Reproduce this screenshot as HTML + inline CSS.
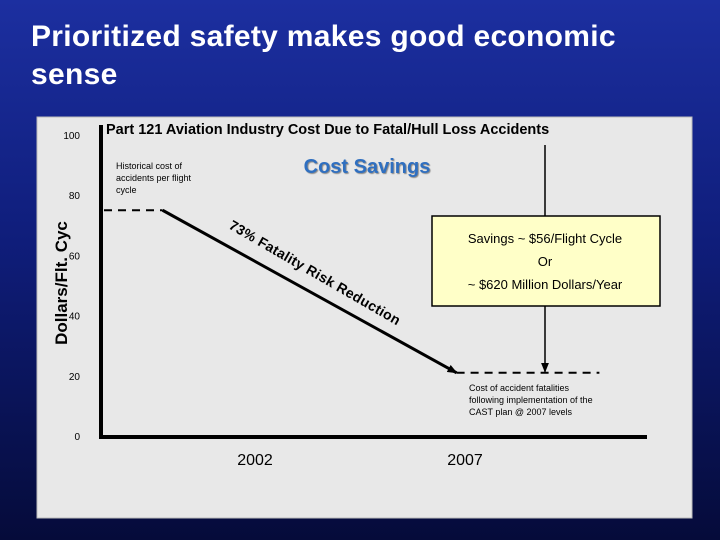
<!DOCTYPE html>
<html><head><meta charset="utf-8"><style>
html,body{margin:0;padding:0}
body{width:720px;height:540px;overflow:hidden;background:linear-gradient(#1c2fa0 0%,#0f1d7a 45%,#050b3a 100%);font-family:"Liberation Sans",sans-serif;position:relative}
#title{position:absolute;left:31px;top:18px;color:#fff;font-weight:bold;font-size:30px;line-height:38px;letter-spacing:0.3px}
</style></head><body>
<div id="title">Prioritized safety makes good economic<br>sense</div>
<svg id="chart" width="720" height="540" style="position:absolute;left:0;top:0">
<defs><marker id="ah" markerUnits="userSpaceOnUse" markerWidth="10" markerHeight="8" refX="9" refY="4" orient="auto"><path d="M0,0L10,4L0,8z" fill="#000"/></marker></defs>
<rect x="37" y="117" width="655" height="401" fill="#e8e8e8" stroke="#bbb"/>
</svg>
<script>
const years=[2002,2007];
const yTicks=[100,80,60,40,20,0];
const historical=[[1999.8,75]];
const trend=[[1999.8,75],[2006.8,21]];
const future=[[2006.8,21],[2010.2,21]];
const svg=document.getElementById('chart');const NS='http://www.w3.org/2000/svg';
const xs=v=>255+(v-2002)*42, ys=v=>436-v*3.01;
function mk(t,a,p){const e=document.createElementNS(NS,t);for(const k in a)e.setAttribute(k,a[k]);(p||svg).appendChild(e);return e;}
let e;
e=mk('line',{x1:101,y1:125,x2:101,y2:438,stroke:'#000','stroke-width':4});


e=mk('line',{x1:99,y1:437,x2:647,y2:437,stroke:'#000','stroke-width':4});


yTicks.forEach(v=>{e=mk('text',{x:80,y:ys(v)+4,'font-size':10,'text-anchor':'end'});e.textContent=v;

});
years.forEach(v=>{e=mk('text',{x:xs(v),y:465,'font-size':16,'text-anchor':'middle'});e.textContent=v;

});
e=mk('line',{x1:104,y1:ys(historical[0][1]),x2:xs(historical[0][0]),y2:ys(historical[0][1]),stroke:'#000','stroke-width':2,'stroke-dasharray':'8,6'});


e=mk('line',{x1:xs(trend[0][0]),y1:ys(trend[0][1]),x2:xs(trend[1][0]),y2:ys(trend[1][1]),stroke:'#000','stroke-width':3,'marker-end':'url(#ah)'});


e=mk('line',{x1:xs(future[0][0]),y1:ys(future[0][1]),x2:xs(future[1][0]),y2:ys(future[1][1]),stroke:'#000','stroke-width':2,'stroke-dasharray':'8,6'});


e=mk('line',{x1:545,y1:145,x2:545,y2:216,stroke:'#000','stroke-width':1.5});


e=mk('line',{x1:545,y1:305,x2:545,y2:ys(future[0][1])-1,stroke:'#000','stroke-width':1.5,'marker-end':'url(#ah)'});


e=mk('rect',{x:432,y:216,width:228,height:90,fill:'#ffffc8',stroke:'#000','stroke-width':1.5});


[['Savings ~ $56/Flight Cycle',243],['Or',266],['~ $620 Million Dollars/Year',289]].forEach(([t,y])=>{e=mk('text',{x:545,y:y,'font-size':13,'text-anchor':'middle'});e.textContent=t;

});
e=mk('text',{x:106,y:134,'font-size':14.5,'font-weight':'bold'});e.textContent='Part 121 Aviation Industry Cost Due to Fatal/Hull Loss Accidents';


e=mk('text',{x:367,y:173,'font-size':20,'font-weight':'bold',fill:'#2f6fc0','text-anchor':'middle',style:'text-shadow:1px 1px 1px #888'});e.textContent='Cost Savings';


[['Historical cost of',169],['accidents per flight',181],['cycle',193]].forEach(([t,y])=>{e=mk('text',{x:116,y:y,'font-size':9});e.textContent=t;

});
[['Cost of accident fatalities',391],['following implementation of the',403],['CAST plan @ 2007 levels',415]].forEach(([t,y])=>{e=mk('text',{x:469,y:y,'font-size':9});e.textContent=t;

});
e=mk('text',{x:0,y:0,'font-size':14,'font-weight':'bold',textLength:195,lengthAdjust:'spacing',transform:'translate(228,228) rotate(30)'});e.textContent='73% Fatality Risk Reduction';


e=mk('text',{x:0,y:0,'font-size':17,'font-weight':'bold','text-anchor':'middle',transform:'translate(67,283) rotate(-90)'});e.textContent='Dollars/Flt. Cyc';


</script>
</body></html>
